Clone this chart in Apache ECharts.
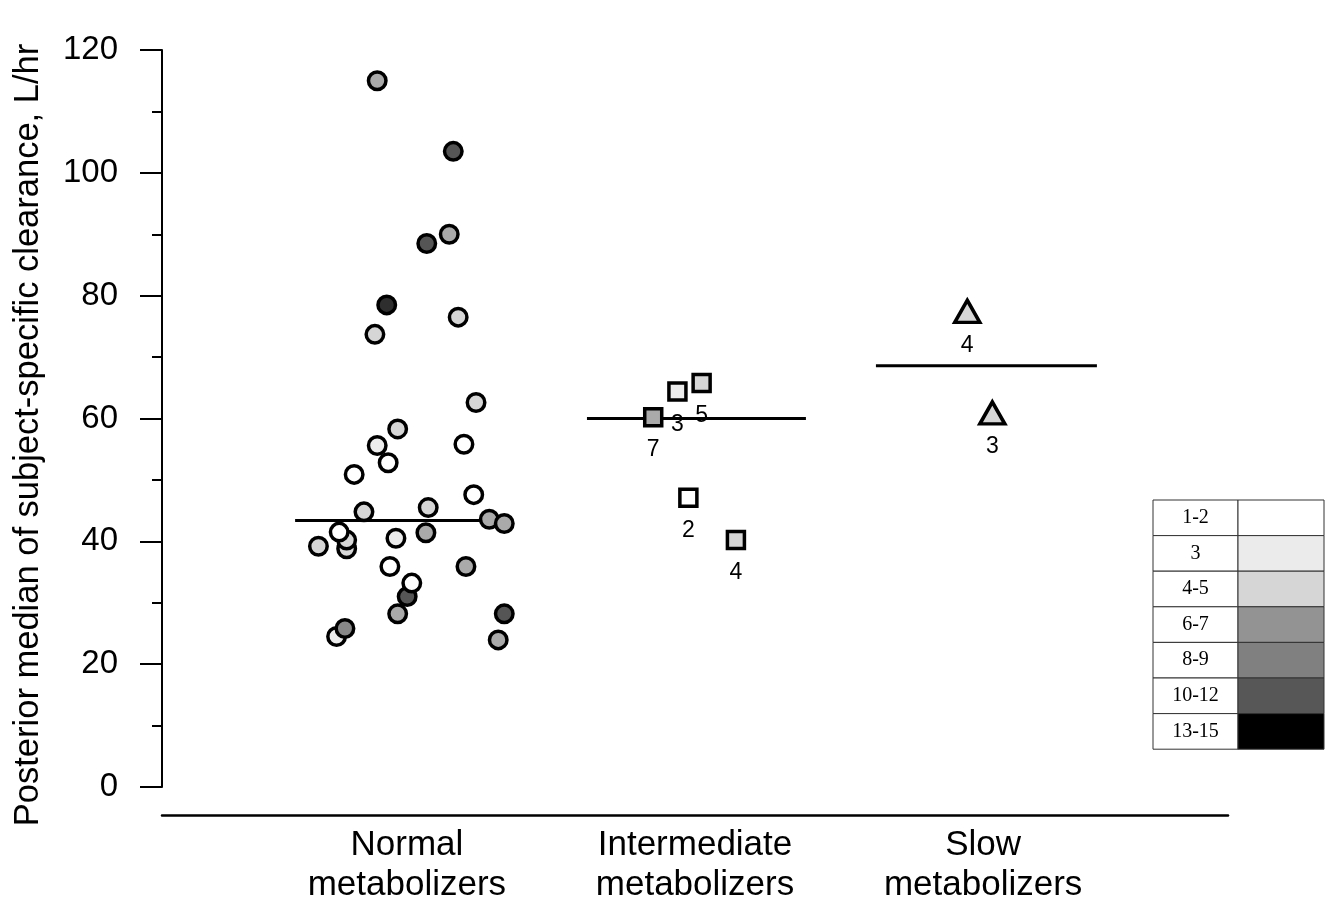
<!DOCTYPE html>
<html>
<head>
<meta charset="utf-8">
<script src="https://cdn.jsdelivr.net/npm/echarts@6/dist/echarts.min.js"></script>
<style>
html,body{margin:0;padding:0;background:#fff;}
#chart{width:1330px;height:905px;}
</style>
</head>
<body>
<div id="chart"></div>
<script>
// ---- data ----
const categories = ['Normal\nmetabolizers', 'Intermediate\nmetabolizers', 'Slow\nmetabolizers'];
const categoryPos = [1, 2, 3];
const yTicks = [0, 20, 40, 60, 80, 100, 120];
const yTitle = 'Posterior median of subject-specific clearance, L/hr';

// Normal metabolizers (jittered x position, clearance, shade group index)
const normalX = [0.897,1.161,1.147,1.069,0.930,1.178,0.889,1.240,0.968,0.897,1.198,0.935,0.817,1.232,0.851,1.074,1.286,1.338,0.791,0.791,0.765,0.693,0.962,1.066,0.941,1.205,1.001,1.017,0.968,1.338,0.756,0.785,1.317];
const normalY = [115.0,103.5,90.0,88.5,78.5,76.5,73.7,62.6,58.3,55.6,55.8,52.8,50.9,47.6,44.8,45.5,43.6,42.9,38.8,40.2,41.5,39.2,40.5,41.4,35.9,35.9,31.0,33.2,28.2,28.2,24.5,25.8,23.95];
const normalShade = [3,5,3,5,6,2,2,2,2,1,0,0,0,0,2,2,3,3,2,2,0,2,1,3,0,3,5,0,3,5,1,4,3];

// Intermediate metabolizers
const interX = [1.939, 2.023, 1.855, 1.977, 2.142];
const interY = [64.4, 65.8, 60.2, 47.1, 40.2];
const interShade = [1, 2, 3, 0, 2];
const interLabel = ['3', '5', '7', '2', '4'];

// Slow metabolizers
const slowX = [2.945, 3.032];
const slowY = [77.45, 60.9];
const slowShade = [2, 2];
const slowLabel = ['4', '3'];

// Group medians and horizontal extent of the median bars
const medianY = [43.4, 60.0, 68.6];
const medianFrom = [0.612, 1.625, 2.628];
const medianTo = [1.313, 2.385, 3.395];

// Shade legend
const legendLabels = ['1-2', '3', '4-5', '6-7', '8-9', '10-12', '13-15'];
const legendColors = ['#ffffff', '#ebebeb', '#d6d6d6', '#939393', '#808080', '#575757', '#000000'];
const pointColors = ['#ffffff', '#ececec', '#d6d6d6', '#aaaaaa', '#888888', '#555555', '#2e2e2e'];

// ---- chart ----
const FONT = "'Liberation Sans', Arial, Helvetica, sans-serif";
const chart = echarts.init(document.getElementById('chart'), null, {renderer: 'canvas'});

function pts(xs, ys, shades, labels) {
  return xs.map((x, i) => ({
    value: [x, ys[i]],
    itemStyle: {color: pointColors[shades[i]]},
    label: labels ? {formatter: labels[i]} : undefined
  }));
}

const medianSeries = medianY.map((m, i) => ({
  type: 'line',
  z: 1,
  silent: true,
  symbol: 'none',
  animation: false,
  lineStyle: {color: '#000', width: 3},
  data: [[medianFrom[i], m], [medianTo[i], m]]
}));

// legend graphic
const lgX = 1153, lgY = 500, cellW1 = 85, cellW2 = 86, rowH = 35.6;
const graphics = [];
legendLabels.forEach((lab, i) => {
  const y = lgY + i * rowH;
  graphics.push({
    type: 'rect', shape: {x: lgX, y: y, width: cellW1, height: rowH},
    style: {fill: '#fff', stroke: '#333', lineWidth: 1}
  });
  graphics.push({
    type: 'rect', shape: {x: lgX + cellW1, y: y, width: cellW2, height: rowH},
    style: {fill: legendColors[i], stroke: '#333', lineWidth: 1}
  });
  graphics.push({
    type: 'text', x: lgX + cellW1 / 2, y: y + rowH / 2,
    style: {text: lab, fill: '#000', font: "20px 'Liberation Serif', 'Times New Roman', serif", align: 'center', verticalAlign: 'middle'}
  });
});
// y-axis title
graphics.push({
  type: 'text', x: 28, y: 435, rotation: Math.PI / 2,
  style: {text: yTitle, fill: '#000', font: "34.5px 'Liberation Sans', Arial, sans-serif", align: 'center', verticalAlign: 'middle'}
});

const option = {
  animation: false,
  backgroundColor: '#fff',
  grid: {left: 162, right: 102, top: 50, bottom: 117, containLabel: false},
  xAxis: {
    type: 'value',
    min: 0.15,
    max: 3.85,
    offset: 28,
    splitLine: {show: false},
    axisTick: {show: false},
    axisLine: {show: true, onZero: false, lineStyle: {color: '#000', width: 2.5}},
    axisLabel: {
      customValues: categoryPos,
      formatter: function (v) {
        const idx = categoryPos.indexOf(Math.round(v));
        return idx >= 0 ? categories[idx] : '';
      },
      color: '#000',
      fontFamily: FONT,
      fontSize: 35,
      lineHeight: 40,
      margin: 10
    }
  },
  yAxis: {
    type: 'value',
    min: 0,
    max: 120,
    interval: 20,
    splitLine: {show: false},
    axisLine: {show: true, onZero: false, lineStyle: {color: '#000', width: 2}},
    axisTick: {show: true, inside: false, length: 22, lineStyle: {color: '#000', width: 2}},
    minorTick: {show: true, splitNumber: 2, length: 10, lineStyle: {color: '#000', width: 2}},
    axisLabel: {
      color: '#000', fontFamily: FONT, fontSize: 33, margin: 44,
      customValues: yTicks
    }
  },
  series: [
    ...medianSeries,
    {
      type: 'scatter', z: 3, symbol: 'circle', symbolSize: 17.5,
      itemStyle: {borderColor: '#000', borderWidth: 3.5, opacity: 1},
      data: pts(normalX, normalY, normalShade)
    },
    {
      type: 'scatter', z: 3, symbol: 'rect', symbolSize: 17,
      itemStyle: {borderColor: '#000', borderWidth: 3.5, opacity: 1},
      label: {show: true, position: 'bottom', distance: 11, color: '#000', fontFamily: FONT, fontSize: 23},
      data: pts(interX, interY, interShade, interLabel)
    },
    {
      type: 'scatter', z: 3, symbol: 'triangle', symbolSize: [25, 22],
      itemStyle: {borderColor: '#000', borderWidth: 3.5, opacity: 1},
      label: {show: true, position: 'bottom', distance: 10, color: '#000', fontFamily: FONT, fontSize: 23},
      data: pts(slowX, slowY, slowShade, slowLabel)
    }
  ],
  graphic: graphics
};
chart.setOption(option);
</script>
</body>
</html>
